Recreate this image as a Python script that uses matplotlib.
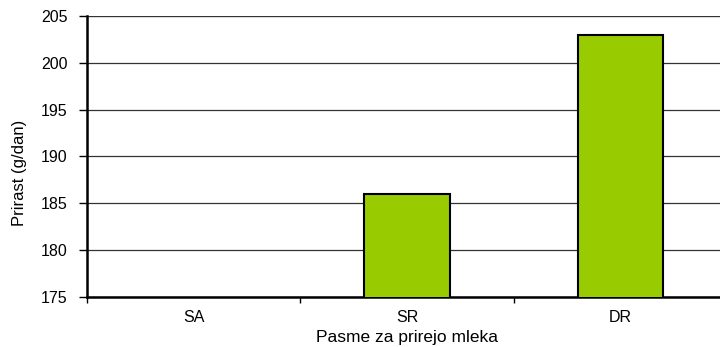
import matplotlib as mpl
mpl.use('Agg')
import matplotlib.pyplot as plt
import numpy as np

plt.rcParams['font.family'] = ['Liberation Sans', 'DejaVu Sans']

# prirast po pasmah (SA ni nad spodnjo mejo osi)
pasme = ['SA', 'SR', 'DR']
prirast = [np.nan, 186, 203]
yticks = [175, 180, 185, 190, 195, 200, 205]

fig = plt.figure(figsize=(7.2, 3.47), dpi=100)
ax = fig.add_axes([87/720, 50/347, 640/720, 281/347])

x = np.arange(len(pasme))
ax.bar(x, prirast, width=0.4, bottom=0, color='#99CC00', edgecolor='black', lw=1.5, zorder=3)
ax.set_ylim(175, 205)
ax.set_xlim(-0.5, 2.5)
ax.set_yticks(yticks)
ax.set_yticklabels([str(t) for t in yticks], fontsize=11.5)
ax.set_xticks(x)
ax.set_xticklabels(pasme, fontsize=11.5)
ax.tick_params(axis='x', length=0, pad=9.5)
ax.set_xticks([-0.5, 0.5, 1.5, 2.5], minor=True)
ax.tick_params(axis='x', which='minor', length=4, width=1, direction='out')
ax.tick_params(axis='y', length=6, width=1, direction='out', pad=8)
ax.grid(axis='y', color='#333333', lw=0.9, zorder=0)
for s in ['right', 'top']:
    ax.spines[s].set_visible(False)
ax.spines['left'].set_linewidth(1.8)
ax.spines['bottom'].set_linewidth(1.8)
ax.axhline(205, color='black', lw=1.5, zorder=1)
ax.set_ylabel('Prirast (g/dan)', fontsize=12)
ax.set_xlabel('Pasme za prirejo mleka', fontsize=12.5)
ax.yaxis.set_label_coords(-0.094, 0.44)
ax.xaxis.set_label_coords(0.5, -0.118)

fig.savefig('out.png', dpi=100)
